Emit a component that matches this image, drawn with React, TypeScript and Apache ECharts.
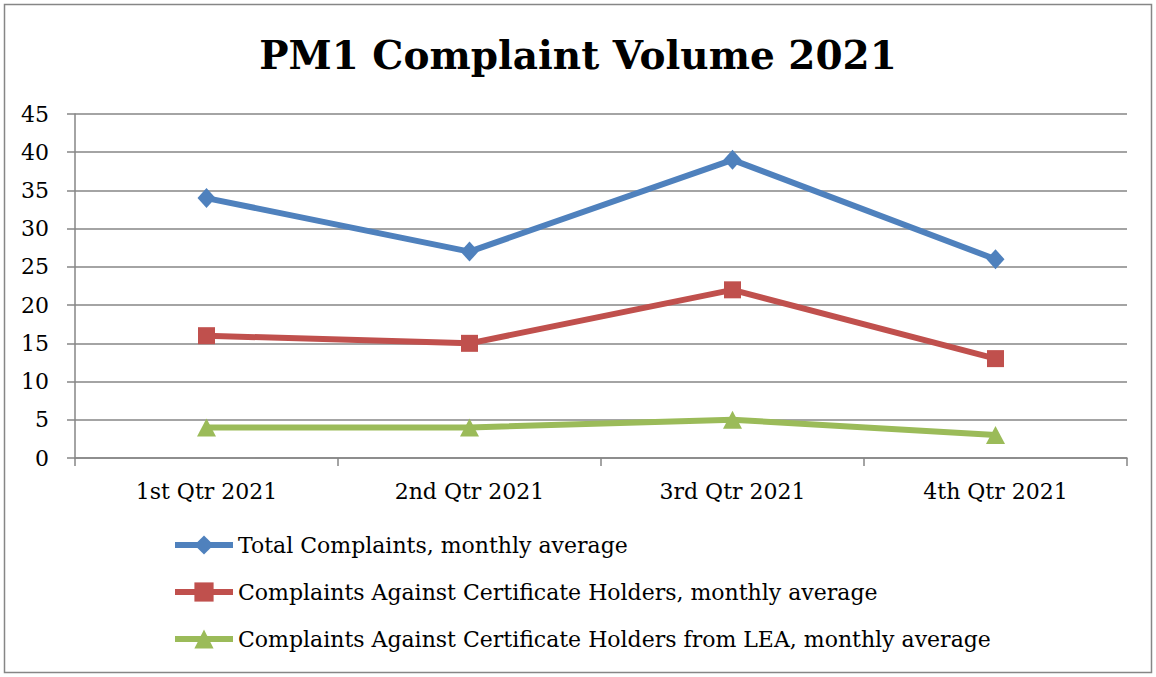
import React, { useEffect, useRef } from "react";
import * as echarts from "echarts";

const categories = ["1st Qtr 2021", "2nd Qtr 2021", "3rd Qtr 2021", "4th Qtr 2021"];
const totalComplaints = [34, 27, 39, 26];
const certHolders = [16, 15, 22, 13];
const certHoldersLEA = [4, 4, 5, 3];
const seriesNames = [
  "Total Complaints, monthly average",
  "Complaints Against Certificate Holders, monthly average",
  "Complaints Against Certificate Holders from LEA, monthly average",
];

const FONT = "'DejaVu Serif', serif";

export default function App() {
  const ref = useRef<HTMLDivElement>(null);
  useEffect(() => {
    document.body.style.margin = "0";
    const chart = echarts.init(ref.current!, undefined, { renderer: "svg" });
    const gridColor = "#868686";
    chart.setOption({
      animation: false,
      backgroundColor: "#ffffff",
      textStyle: { fontFamily: FONT },
      title: {
        text: "PM1 Complaint Volume 2021",
        left: "center",
        top: 30,
        textStyle: { fontFamily: FONT, fontWeight: "bold", fontSize: 39, color: "#000" },
      },
      graphic: [
        {
          type: "rect",
          shape: { x: 4.5, y: 4.5, width: 1147, height: 668 },
          style: { fill: "none", stroke: gridColor, lineWidth: 1.5 },
          silent: true,
        },
      ],
      grid: { left: 75, right: 29, top: 114, bottom: 219, containLabel: false },
      legend: {
        orient: "vertical",
        left: 167,
        top: 529,
        itemWidth: 58,
        itemHeight: 24,
        itemGap: 25,
        lineStyle: { width: 6 },
        textStyle: { fontFamily: FONT, fontSize: 22, color: "#000" },
        data: seriesNames,
      },
      xAxis: {
        type: "category",
        data: categories,
        boundaryGap: true,
        axisLine: { lineStyle: { color: gridColor, width: 1.5 } },
        axisTick: { show: true, alignWithLabel: false, length: 8, lineStyle: { color: gridColor, width: 1.5 } },
        axisLabel: { fontFamily: FONT, fontSize: 22, color: "#000", margin: 22 },
      },
      yAxis: {
        type: "value",
        min: 0,
        max: 45,
        interval: 5,
        axisLine: { show: true, lineStyle: { color: gridColor, width: 1.5 } },
        axisTick: { show: true, length: 8, lineStyle: { color: gridColor, width: 1.5 } },
        splitLine: { show: true, lineStyle: { color: gridColor, width: 1.5 } },
        axisLabel: { fontFamily: FONT, fontSize: 22, color: "#000", margin: 26 },
      },
      series: [
        {
          name: seriesNames[0],
          type: "line",
          data: totalComplaints,
          symbol: "diamond",
          symbolSize: [18, 20],
          lineStyle: { color: "#4F81BD", width: 6 },
          itemStyle: { color: "#4F81BD" },
        },
        {
          name: seriesNames[1],
          type: "line",
          data: certHolders,
          symbol: "rect",
          symbolSize: 17,
          lineStyle: { color: "#C0504D", width: 6 },
          itemStyle: { color: "#C0504D" },
        },
        {
          name: seriesNames[2],
          type: "line",
          data: certHoldersLEA,
          symbol: "triangle",
          symbolSize: [19, 18],
          lineStyle: { color: "#9BBB59", width: 6 },
          itemStyle: { color: "#9BBB59" },
        },
      ],
    });
    return () => chart.dispose();
  }, []);
  return <div ref={ref} style={{ width: 1156, height: 677 }} />;
}
